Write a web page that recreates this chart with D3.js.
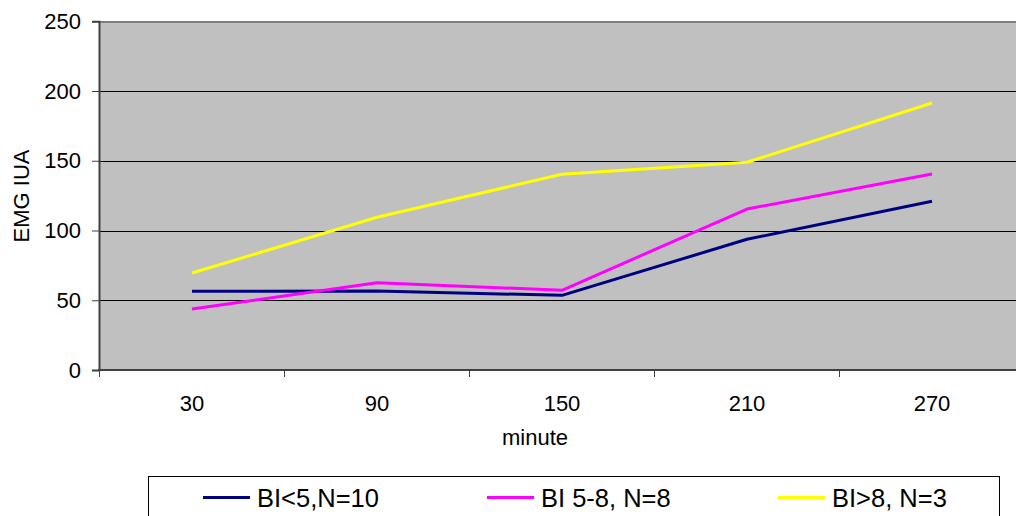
<!DOCTYPE html>
<html><head><meta charset="utf-8">
<script src="https://cdn.jsdelivr.net/npm/d3@7"></script>
<style>body{margin:0;background:#fff}svg{display:block;font-family:"Liberation Sans",Arial,sans-serif}</style>
</head><body><svg id="c" width="1016" height="516"></svg>
<script>
const categories = ["30","90","150","210","270"];
const seriesNames = ["BI<5,N=10","BI 5-8, N=8","BI>8, N=3"];
const seriesColors = ["#000080","#FF00FF","#FFFF00"];
const bi5 = [56.4, 56.6, 53.5, 93.7, 120.9];
const bi58 = [43.7, 62.6, 57.1, 115.4, 140.5];
const bi8 = [69.5, 109.5, 140.3, 148.9, 191.4];
const yTicks = [0, 50, 100, 150, 200, 250];

const series = [bi5, bi58, bi8];
const svg = d3.select("#c");
const L = 99.5, R = 1024.5, T = 21.25, B = 370;
const x = d3.scaleBand().domain(categories).range([L, R]);
const y = d3.scaleLinear().domain([0, 250]).range([B, T]);

svg.append("rect").attr("x", L).attr("y", T).attr("width", R - L).attr("height", B - T).attr("fill", "#C0C0C0");
// top border
svg.append("line").attr("x1", L).attr("x2", 1016).attr("y1", 22).attr("y2", 22).attr("stroke", "#808080").attr("stroke-width", 2);

// gridlines
svg.append("g").selectAll("line").data(yTicks.filter(d => d > 0 && d < 250)).join("line")
  .attr("x1", L).attr("x2", R).attr("y1", d => Math.round(y(d)) + 0.5).attr("y2", d => Math.round(y(d)) + 0.5)
  .attr("stroke", "#000").attr("stroke-width", 1);

// Y axis
const ya = svg.append("g").attr("transform", `translate(${L - 0.5},0)`)
  .call(d3.axisLeft(y).tickValues(yTicks).tickSize(7).tickPadding(11));
ya.select(".domain").attr("stroke", "#404040").attr("stroke-width", 2);
ya.selectAll(".tick line").attr("stroke", "#404040");
ya.selectAll("text").attr("font-size", 22).attr("font-family", "Liberation Sans, Arial").attr("fill", "#000");

// X axis labels
const xa = svg.append("g").attr("transform", `translate(0,${B})`)
  .call(d3.axisBottom(x).tickSize(0).tickPadding(25));
xa.select(".domain").remove();
xa.selectAll("text").attr("font-size", 22).attr("font-family", "Liberation Sans, Arial").attr("fill", "#000");
// X axis line and boundary ticks
svg.append("line").attr("x1", L - 1.5).attr("x2", 1016).attr("y1", B).attr("y2", B).attr("stroke", "#404040").attr("stroke-width", 2);
svg.append("g").selectAll("line").data(categories).join("line")
  .attr("x1", d => Math.round(x(d)) - 0.5).attr("x2", d => Math.round(x(d)) - 0.5)
  .attr("y1", B).attr("y2", B + 7).attr("stroke", "#404040");

// lines
const line = d3.line().x((d, i) => x(categories[i]) + x.bandwidth() / 2).y(d => y(d));
series.forEach((s, k) => {
  svg.append("path").datum(s).attr("d", line).attr("fill", "none")
    .attr("stroke", seriesColors[k]).attr("stroke-width", 3).attr("stroke-linejoin", "round");
});

// axis titles
svg.append("text").attr("x", 535).attr("y", 445).attr("text-anchor", "middle").attr("font-size", 22).text("minute");
svg.append("text").attr("transform", "translate(29,196) rotate(-90)").attr("text-anchor", "middle").attr("font-size", 22).text("EMG IUA");

// legend
svg.append("rect").attr("x", 148.5).attr("y", 476.5).attr("width", 851).attr("height", 50).attr("fill", "#fff").attr("stroke", "#000");
const lx = [203, 487, 778];
seriesNames.forEach((n, k) => {
  svg.append("line").attr("x1", lx[k]).attr("x2", lx[k] + 47).attr("y1", 497.5).attr("y2", 497.5)
    .attr("stroke", seriesColors[k]).attr("stroke-width", 3);
  svg.append("text").attr("x", lx[k] + 54).attr("y", 507).attr("font-size", 25.5).text(n);
});
</script></body></html>
